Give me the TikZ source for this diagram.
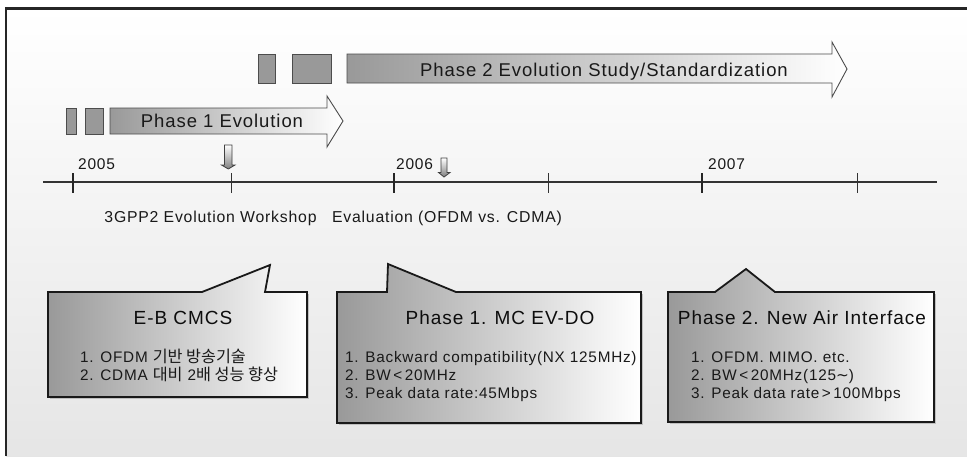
\documentclass[tikz,border=0pt]{standalone}
\usepackage{fontspec}
\setmainfont{Liberation Sans}[LetterSpace=5]
\newfontfamily\krfont{Noto Sans CJK KR}[Scale=1.06]
\newfontfamily\symfont{DejaVu Sans}
\newcommand{\kr}[1]{{\krfont #1}}

\begin{document}
\begin{tikzpicture}[
  x=1pt, y=-1pt,
  frame/.style={draw=black!85, line width=2.6pt},
  axis/.style={draw=black!80, line width=2pt},
  majortick/.style={draw=black!85, line width=2.6pt},
  minortick/.style={draw=black!80, line width=1pt},
  stub/.style={draw=black!70, line width=0.9pt, fill=black!40},
  phasearrow/.style={draw=black!70, line width=0.9pt, left color=black!40, right color=white},
  marker/.style={draw=black!75, line width=0.8pt, top color=white, bottom color=black!50},
  callout/.style={draw=black!90, line width=1.8pt, left color=black!40, right color=white},
  shadow/.style={fill=black!25},
  phaselabel/.style={font=\fontsize{18.5}{22}\selectfont, text=black!90, inner sep=0, anchor=base},
  year/.style={font=\fontsize{15.5}{18}\selectfont, text=black!90, inner sep=0, anchor=base west},
  event/.style={font=\fontsize{15.8}{18}\selectfont, text=black!90, inner sep=0, anchor=base},
  boxtitle/.style={font=\fontsize{19}{22}\selectfont, text=black!95, inner sep=0, anchor=base},
  item/.style={font=\fontsize{15.3}{18}\selectfont, text=black!90, inner sep=0, anchor=base west}
]

\useasboundingbox (0,0) rectangle (967,456);

% background panel
\fill[top color=white, bottom color=black!10] (6,8) rectangle (967,456);
\draw[frame] (6,456) -- (6,8.5) -- (967,8.5);

% phase 2 bar
\draw[stub] (258,54) rectangle (275,83);
\draw[stub] (292,54) rectangle (331,83);
\draw[phasearrow] (347,54) -- (832,54) -- (832,42) -- (847,69) -- (832,97) -- (832,83) -- (347,83) -- cycle;
\node[phaselabel] (phase2) at (604,76) {Phase 2 Evolution Study/Standardization};

% phase 1 bar
\draw[stub] (66,108) rectangle (76,134);
\draw[stub] (85,108) rectangle (103,134);
\draw[phasearrow] (110,108) -- (327,108) -- (327,96) -- (343,121) -- (327,147) -- (327,134) -- (110,134) -- cycle;
\node[phaselabel] (phase1) at (222,127.5) {Phase 1 Evolution};

% time axis
\draw[axis] (43,182) -- (937,182);
\draw[majortick] (73,173) -- (73,193);
\draw[majortick] (394,173) -- (394,193);
\draw[majortick] (702,173) -- (702,193);
\draw[minortick] (231,173) -- (231,193);
\draw[minortick] (548,173) -- (548,193);
\draw[minortick] (857,173) -- (857,193);

\node[year] (y2005) at (78,169) {2005};
\node[year] (y2006) at (396,169) {2006};
\node[year] (y2007) at (708,169) {2007};

% event markers
\draw[marker] (224.5,145) -- (232,145) -- (232,165) -- (235,165) -- (228.3,169) -- (221.5,165) -- (224.5,165) -- cycle;
\draw[marker] (441,158) -- (447,158) -- (447,172.5) -- (450,172.5) -- (444,177) -- (438.5,172.5) -- (441,172.5) -- cycle;

\node[event] (workshop) at (210.5,222.5) {3GPP2 Evolution Workshop};
\node[event] (evaluation) at (447,222.5) {Evaluation (OFDM vs. CDMA)};

% callout boxes
\fill[shadow, shift={(2,2)}] (48,292) -- (307,292) -- (307,397) -- (48,397) -- cycle;
\draw[callout] (48,292) -- (202,292) -- (270,265) -- (265,292) -- (307,292) -- (307,397) -- (48,397) -- cycle;
\node[boxtitle] (cmcs) at (183,324) {E-B CMCS};
\node[item] (cmcs1) at (80,362) {1. OFDM \kr{기반 방송기술}};
\node[item] (cmcs2) at (80,380) {2. CDMA \kr{대비} 2\kr{배 성능 향상}};

\fill[shadow, shift={(2,2)}] (337,292) -- (641,292) -- (641,423) -- (337,423) -- cycle;
\draw[callout] (337,292) -- (387,292) -- (388,264) -- (456,292) -- (641,292) -- (641,423) -- (337,423) -- cycle;
\node[boxtitle] (evdo) at (500,324) {Phase 1. MC EV-DO};
\node[item] (evdo1) at (345,362.5) {1. Backward compatibility(NX 125MHz)};
\node[item] (evdo2) at (345,380.5) {2. BW\,<\,20MHz};
\node[item] (evdo3) at (345,398.5) {3. Peak data rate:45Mbps};

\fill[shadow, shift={(2,2)}] (668,292) -- (934,292) -- (934,422) -- (668,422) -- cycle;
\draw[callout] (668,292) -- (715,292) -- (746,269) -- (775,292) -- (934,292) -- (934,422) -- (668,422) -- cycle;
\node[boxtitle] (air) at (802,324) {Phase 2. New Air Interface};
\node[item] (air1) at (691,362.5) {1. OFDM. MIMO. etc.};
\node[item] (air2) at (691,380.5) {2. BW\,<\,20MHz(125{\symfont ∼})};
\node[item] (air3) at (691,398.5) {3. Peak data rate\,>\,100Mbps};

\end{tikzpicture}
\end{document}
